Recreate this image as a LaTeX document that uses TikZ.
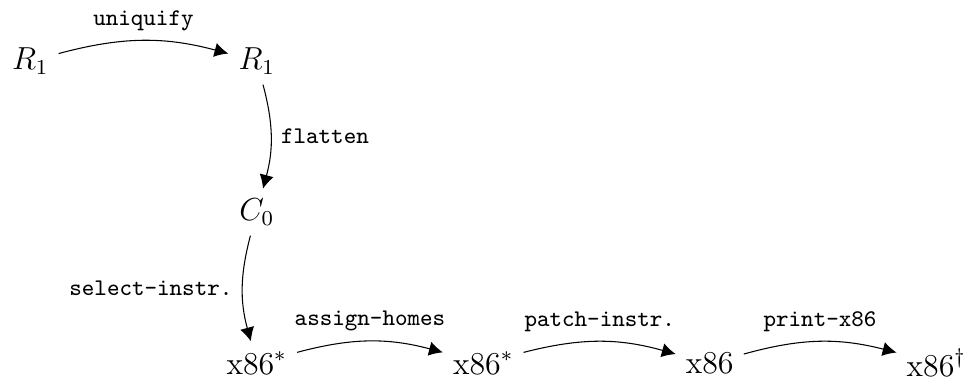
\documentclass[tikz,border=0pt,11pt]{standalone}
\usepackage{amsmath}
\usetikzlibrary{arrows.meta}

\begin{document}
\begin{tikzpicture}[
    pass/.style={-{Latex[length=5.2pt,width=5.4pt]}},
    passname/.style={font=\ttfamily\footnotesize},
    lang/.style={font=\large}]
  \useasboundingbox (-0.40,-2.30) rectangle (12.50,2.81);

  \node[lang] (R1)    at (0,2)   {$R_1$};
  \node[lang] (R1-2)  at (3,2)   {$R_1$};
  \node[lang] (C0-1)  at (3,0)   {$C_0$};
  \node[lang] (x86-2) at (3,-2)  {$\text{x86}^{*}$};
  \node[lang] (x86-3) at (6,-2)  {$\text{x86}^{*}$};
  \node[lang] (x86-4) at (9,-2)  {$\text{x86}$};
  \node[lang] (x86-5) at (12,-2) {$\text{x86}^{\dagger}$};

  \path[pass,bend left=15] (R1) edge node[passname,above] {uniquify} (R1-2);
  \path[pass,bend left=15] (R1-2) edge node[passname,right] {flatten} (C0-1);
  \path[pass,bend right=15] (C0-1) edge node[passname,left] {select-instr.} (x86-2);
  \path[pass,bend left=15] (x86-2) edge node[passname,above] {assign-homes} (x86-3);
  \path[pass,bend left=15] (x86-3) edge node[passname,above] {patch-instr.} (x86-4);
  \path[pass,bend left=15] (x86-4) edge node[passname,above] {print-x86} (x86-5);
\end{tikzpicture}
\end{document}
